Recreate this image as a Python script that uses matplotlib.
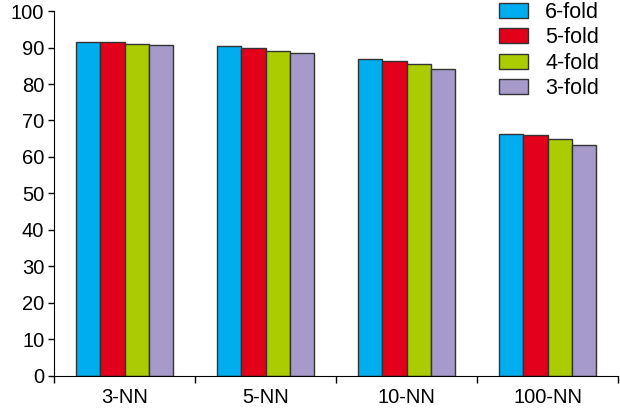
import matplotlib
matplotlib.use('Agg')
import matplotlib.pyplot as plt
import numpy as np

plt.rcParams['font.family'] = ['Liberation Sans', 'DejaVu Sans']

categories = ['3-NN', '5-NN', '10-NN', '100-NN']
series = ['6-fold', '5-fold', '4-fold', '3-fold']
fold6 = [91.5, 90.3, 86.9, 66.4]
fold5 = [91.5, 89.8, 86.3, 66.0]
fold4 = [91.0, 89.1, 85.4, 65.0]
fold3 = [90.7, 88.6, 84.2, 63.4]
colors = ['#00AEEF', '#E2001A', '#AACC00', '#A59ACA']

fig = plt.figure(figsize=(6.2, 4.09), dpi=100)
ax = fig.add_axes([0.0871, 0.0807, 0.9097, 0.8924])

x = np.arange(len(categories))
w = 0.171
for i, (vals, name) in enumerate(zip([fold6, fold5, fold4, fold3], series)):
    ax.bar(x + (i - 1.5) * w, vals, w, color=colors[i], edgecolor='#333333',
           linewidth=1, label=name)

ax.set_xlim(-0.5, 3.5)
ax.set_ylim(0, 100)
ax.set_yticks(range(0, 101, 10))
ax.set_xticks(x)
ax.set_xticklabels(categories, fontsize=14.5)
ax.set_xticks(np.arange(-0.5, 4, 1), minor=True)
ax.tick_params(axis='x', which='major', length=0, pad=9)
ax.tick_params(axis='x', which='minor', length=5, width=1)
ax.tick_params(axis='y', labelsize=14.5, length=4, width=1, pad=3)
for s in ['top', 'right']:
    ax.spines[s].set_visible(False)

ax.legend(loc='upper right', bbox_to_anchor=(599 / 620, 1 - 2 / 409),
          bbox_transform=fig.transFigure, frameon=False, borderpad=0,
          borderaxespad=0, fontsize=15.5, handlelength=1.35, handleheight=0.7,
          labelspacing=0.2, handletextpad=0.8)

fig.savefig('out.png', dpi=100)
